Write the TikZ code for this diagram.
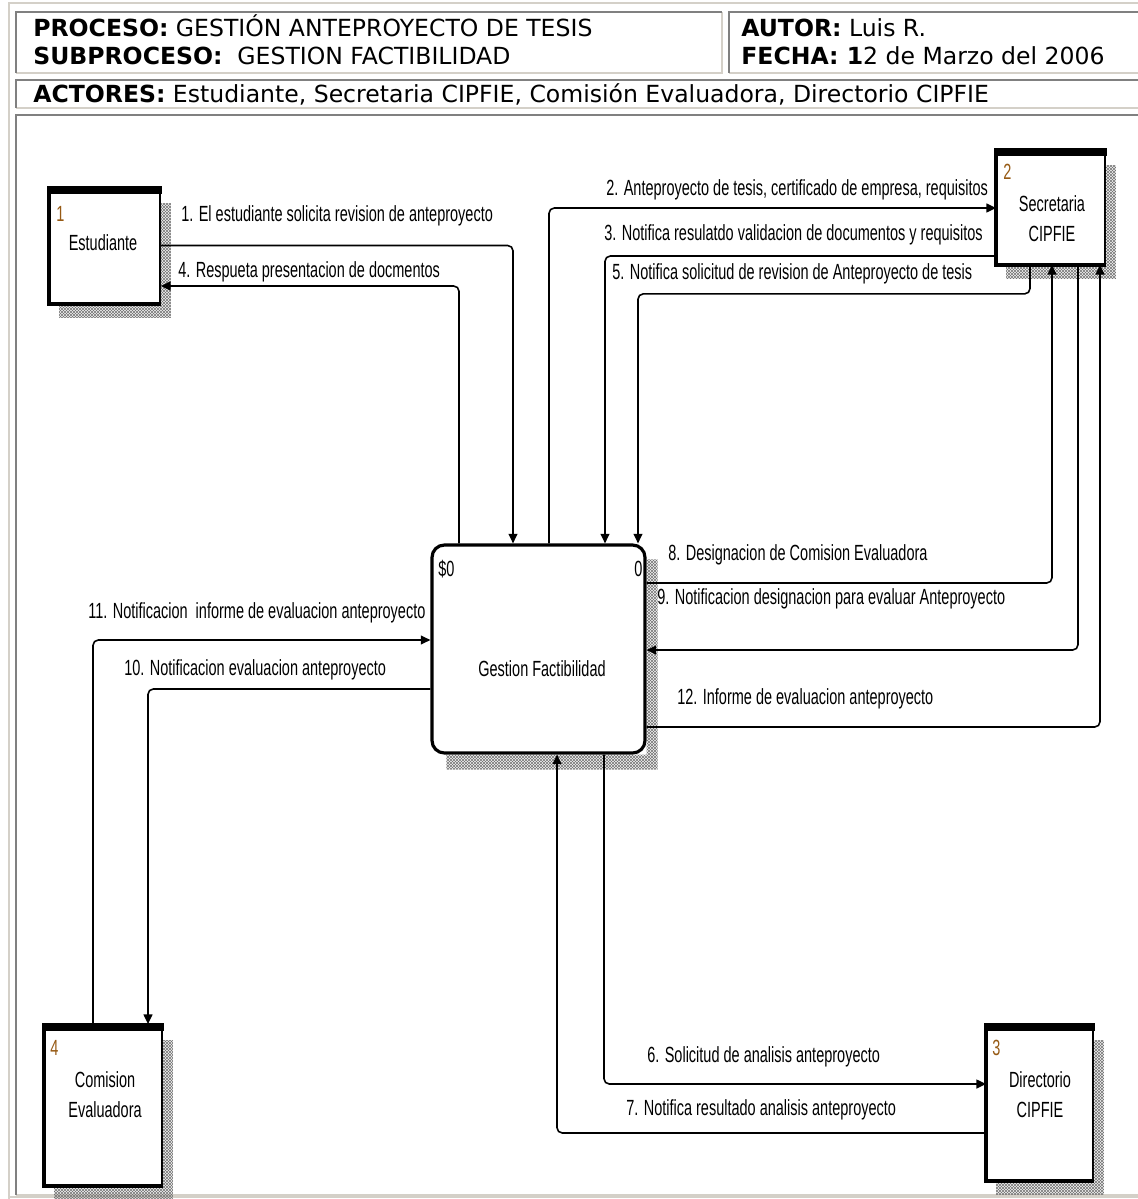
\documentclass[tikz,border=0pt]{standalone}
\usepackage{fontspec}
\setmainfont{Liberation Sans}
\newfontfamily\hdrfont{DejaVu Sans}
\newfontfamily\dfdfont[FakeStretch=0.66]{Liberation Sans}
\usetikzlibrary{arrows.meta, calc, patterns}

\definecolor{cellgray}{RGB}{128,128,128}
\definecolor{celllight}{RGB}{212,208,200}
\definecolor{numcol}{RGB}{150,90,20}

% fine grey hatching used for the box shadows
\pgfdeclarepatternformonly{finehatch}{\pgfpointorigin}{\pgfpoint{1.7pt}{1.7pt}}{\pgfpoint{1.7pt}{1.7pt}}{%
  \pgfsetlinewidth{0.35pt}%
  \pgfpathmoveto{\pgfpointorigin}\pgfpathlineto{\pgfpoint{1.7pt}{1.7pt}}%
  \pgfpathmoveto{\pgfpoint{0pt}{1.7pt}}\pgfpathlineto{\pgfpoint{1.7pt}{0pt}}%
  \pgfusepath{stroke}}

\begin{document}
\begin{tikzpicture}[x=0.02cm, y=-0.02cm,
        entity/.style={draw, fill=white, line width=1pt, inner sep=0pt},
        process/.style={draw, fill=white, rounded corners=7pt, line width=1.8pt, inner sep=0pt},
        etext/.style={align=center, inner sep=0pt, font=\dfdfont\fontsize{12.5}{17}\selectfont},
        num/.style={anchor=base west, inner sep=0pt, text=numcol, font=\dfdfont\fontsize{12.5}{14}\selectfont},
        lbl/.style={anchor=base west, inner sep=0pt, font=\dfdfont\fontsize{12.5}{14}\selectfont},
        hdr/.style={anchor=base west, inner sep=0pt, font=\hdrfont\fontsize{13.4}{16}\selectfont},
        flow/.style={-{Triangle[length=5.5pt, width=5pt]}, line width=0.9pt, rounded corners=3pt},
        hatchshadow/.style={pattern=finehatch, pattern color=black!55}
    ]
    \useasboundingbox (0,0) rectangle (1138,1199);
    \fill[white] (0,0) rectangle (1138,1199);

    % header table
    \draw[celllight, line width=1.1pt] (9,1199) -- (9,3) -- (1140,3);
    \draw[celllight, line width=1.1pt] (9,1197) -- (1140,1197);
    \foreach \xa/\ya/\xb/\yb in {16/12/722/73, 729/12/1140/73, 16/80/1140/108, 16/115/1140/1195} {
        \draw[celllight, line width=1.1pt] (\xa,\yb) -- (\xb,\yb) -- (\xb,\ya);
        \draw[cellgray, line width=1.1pt] (\xa,\yb) -- (\xa,\ya) -- (\xb,\ya);
    }
    \node[hdr] (proceso) at (33,37) {\textbf{PROCESO:} GESTIÓN ANTEPROYECTO DE TESIS};
    \node[hdr] (subproceso) at (33,65) {\textbf{SUBPROCESO:}\ \ GESTION FACTIBILIDAD};
    \node[hdr] (autor) at (741,37) {\textbf{AUTOR:} Luis R.};
    \node[hdr] (fecha) at (741,65) {\textbf{FECHA: 1}2 de Marzo del 2006};
    \node[hdr] (actores) at (33,103) {\textbf{ACTORES:} Estudiante, Secretaria CIPFIE, Comisión Evaluadora, Directorio CIPFIE};

    % entities and process
    \node[entity, minimum width=2.2cm, minimum height=2.3cm] (est) at (105,245.5) {};
    \node[entity, minimum width=2.16cm, minimum height=2.28cm] (sec) at (1051,207) {};
    \node[entity, minimum width=2.12cm, minimum height=3.1cm] (dir) at (1040,1102.5) {};
    \node[entity, minimum width=2.34cm, minimum height=3.2cm] (com) at (103.5,1105) {};
    \node[process, minimum width=4.26cm, minimum height=4.16cm] (proc) at (538.5,649) {};

    \foreach \n in {est,sec,dir,com} {
        \fill[hatchshadow] ($(\n.north east)+(0,16)$) rectangle ($(\n.south east)+(10,14)$)
                           ($(\n.south west)+(10,0)$) rectangle ($(\n.south east)+(10,14)$);
        \draw[line width=2.3pt] (\n.north west) -- (\n.south west) -- (\n.south east);
        \fill ($(\n.north west)+(-2,-1)$) rectangle ($(\n.north east)+(1,7)$);
    }
    \fill[hatchshadow] ($(proc.north east)+(0,16)$) rectangle ($(proc.south east)+(11,15)$)
                       ($(proc.south west)+(16,0)$) rectangle ($(proc.south east)+(11,15)$);

    \node[etext] (esttext) at (103,243) {Estudiante};
    \node[etext] (sectext) at (1052,219) {Secretaria\\CIPFIE};
    \node[etext] (dirtext) at (1040,1095) {Directorio\\CIPFIE};
    \node[etext] (comtext) at (105,1095) {Comision\\Evaluadora};
    \node[etext] (proctext) at (542,669) {Gestion Factibilidad};

    \node[num] (estnum) at (56,222) {1};
    \node[num] (secnum) at (1003,180) {2};
    \node[num] (dirnum) at (992,1055) {3};
    \node[num] (comnum) at (50,1055) {4};
    \node[lbl] (procnum) at (438,576) {\$0};
    \node[lbl] (procnr) at (634,576) {0};

    % data flows
    \draw[flow] (est.east) -| ($(proc.north)+(-25.5,0)$);
    \draw[flow] ($(proc.north)+(-79.5,0)$) |- ($(est.east)+(0,40.5)$);
    \draw[flow] ($(proc.north)+(10.5,0)$) |- ($(sec.west)+(0,1)$);
    \draw[flow] ($(sec.west)+(0,49)$) -| ($(proc.north)+(66.5,0)$);
    \draw[flow] ($(sec.south)+(-21,0)$) -- ++(0,29) -| ($(proc.north)+(99.5,0)$);
    \draw[flow] ($(proc.east)+(0,-66)$) -| ($(sec.south)+(1,0)$);
    \draw[flow] ($(sec.south)+(27,0)$) |- ($(proc.east)+(0,1)$);
    \draw[flow] ($(proc.east)+(0,78)$) -| ($(sec.south)+(49,0)$);
    \draw[flow] ($(com.north)+(-10.5,0)$) |- ($(proc.west)+(0,-9)$);
    \draw[flow] ($(proc.west)+(0,40)$) -| ($(com.north)+(44.5,0)$);
    \draw[flow] ($(proc.south)+(65.5,0)$) |- ($(dir.west)+(0,-18.5)$);
    \draw[flow] ($(dir.west)+(0,30.5)$) -| ($(proc.south)+(18.5,0)$);

    \node[lbl] (l1) at (181,222) {1. El estudiante solicita revision de anteproyecto};
    \node[lbl] (l4) at (178,277) {4. Respueta presentacion de docmentos};
    \node[lbl] (l2) at (606,196) {2. Anteproyecto de tesis, certificado de empresa, requisitos};
    \node[lbl] (l3) at (604,241) {3. Notifica resulatdo validacion de documentos y requisitos};
    \node[lbl] (l5) at (612,279) {5. Notifica solicitud de revision de Anteproyecto de tesis};
    \node[lbl] (l8) at (668,560) {8. Designacion de Comision Evaluadora};
    \node[lbl] (l9) at (657,604) {9. Notificacion designacion para evaluar Anteproyecto};
    \node[lbl] (l12) at (677,704) {12. Informe de evaluacion anteproyecto};
    \node[lbl] (l11) at (88,618) {11. Notificacion\ \ informe de evaluacion anteproyecto};
    \node[lbl] (l10) at (124,675) {10. Notificacion evaluacion anteproyecto};
    \node[lbl] (l6) at (647,1062) {6. Solicitud de analisis anteproyecto};
    \node[lbl] (l7) at (626,1115) {7. Notifica resultado analisis anteproyecto};
\end{tikzpicture}
\end{document}
